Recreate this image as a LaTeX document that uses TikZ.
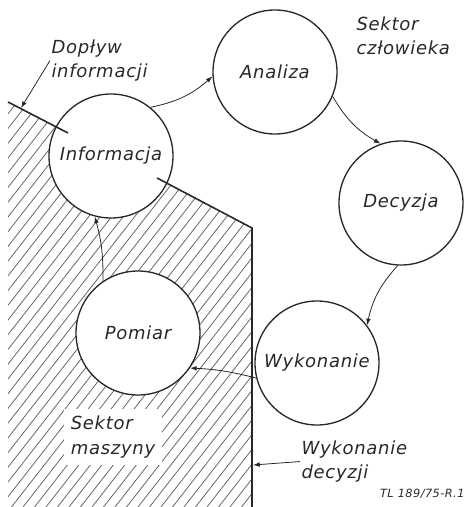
\documentclass[tikz,border=0pt]{standalone}
\usepackage{fontspec}
\setsansfont{DejaVu Sans}[LetterSpace=4]
\usetikzlibrary{arrows.meta}
\definecolor{tusz}{RGB}{40,40,40}
\tikzset{every picture/.style={line width=0.75pt}}

\begin{document}
\begin{tikzpicture}[x=0.75pt,y=0.75pt,yscale=-1,xscale=1,
  etap/.style={draw=tusz, circle, fill=white, minimum size=93pt, inner sep=0pt, line width=1pt, text=tusz, font=\sffamily\itshape\fontsize{13.5}{16}\selectfont},
  opis/.style={anchor=north west, inner sep=0.75pt, align=left, text=tusz, font=\sffamily\itshape\fontsize{13.5}{18.5}\selectfont},
  strzalka/.style={draw=tusz, line width=0.6pt, -{Latex[length=5pt,width=3.5pt]}},
  granica/.style={draw=tusz, line width=1.2pt},
  kreska/.style={draw=tusz!75, line width=0.55pt}]
\useasboundingbox (0,0) rectangle (467,507);

%Hatch: sektor maszyny
\begin{scope}
\clip (8,102) -- (68,133) -- (157,178) -- (252,228) -- (252,507) -- (8,507) -- cycle;
\foreach \i in {-36,...,22}
  \draw [kreska] (\i*11.5,507) -- ++(406,-520);
\end{scope}

% Text Node
\node [opis, anchor=center, fill=white, inner sep=5pt] (maszyna) at (113,437) {Sektor\\maszyny};

%Shape: Circle
\node [etap] (info) at (111,156) {Informacja};
%Shape: Circle
\node [etap] (anal) at (275,72) {Analiza};
%Shape: Circle
\node [etap] (dec) at (401,203) {Decyzja};
%Shape: Circle
\node [etap] (wyk) at (317,363) {Wykonanie};
%Shape: Circle
\node [etap] (pom) at (138,333) {Pomiar};

%Straight Lines
\draw [granica] (8,102) -- (68,133);
\draw [granica] (157,178) -- (252,228) -- (252,507);
\coordinate (wlot) at (21,108);
\coordinate (wyjscie) at (253,465);

%Curve Lines
\draw [strzalka] (info.51) to [bend left=15] (anal.184);
\draw [strzalka] (anal.-23) to [bend left=15] (dec.109);
\draw [strzalka] (dec.-93) to [bend left=15] (wyk.37);
\draw [strzalka] (wyk.194) to [bend left=6] (pom.-34);
\draw [strzalka] (pom.124) to [bend left=8] (info.-105);

% Text Node
\node [opis] (doplyw) at (50,38) {Dopływ\\informacji};
% Text Node
\node [opis] (czlowiek) at (355,15) {Sektor\\człowieka};
% Text Node
\node [opis] (wykdec) at (300,439) {Wykonanie\\decyzji};
% Text Node
\node [anchor=base east, inner sep=0.75pt, text=tusz, font=\sffamily\itshape\fontsize{8.5}{10}\selectfont] (sygn) at (466,497) {TL 189/75-R.1};

\draw [strzalka] (doplyw.west) -- (wlot);
\draw [strzalka] (wykdec.west) -- (wyjscie);

\end{tikzpicture}
\end{document}
